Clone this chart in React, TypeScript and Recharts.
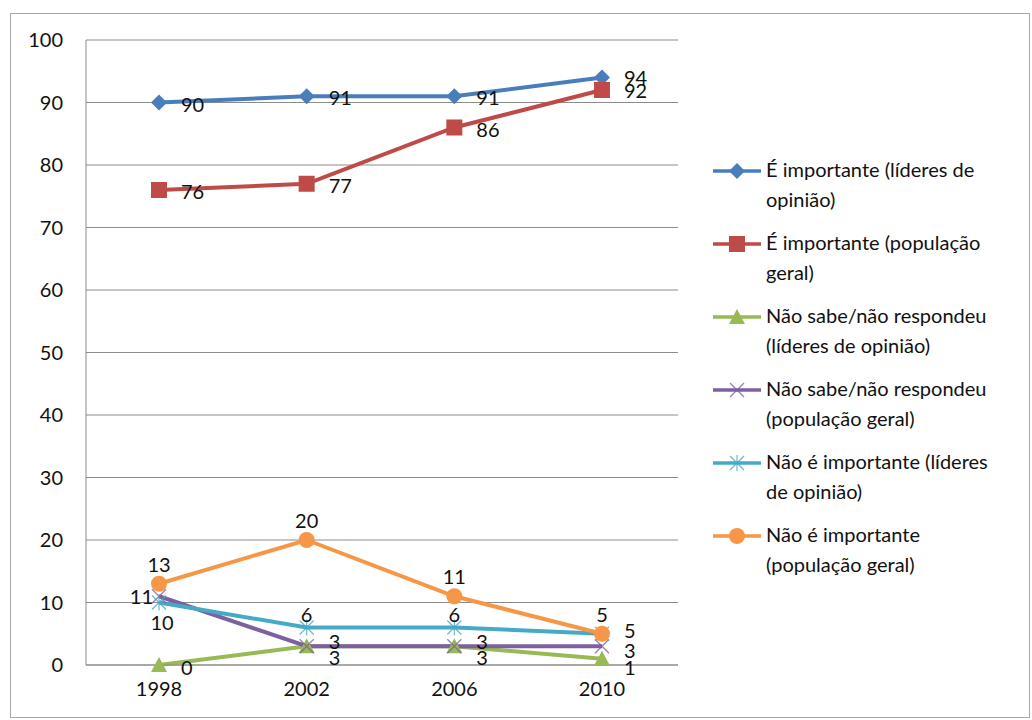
import React from "react";
import { LineChart, Line, XAxis, YAxis, CartesianGrid, LabelList } from "recharts";

const years = ["1998", "2002", "2006", "2010"];
const impLideres = [90, 91, 91, 94];
const impPopulacao = [76, 77, 86, 92];
const nsLideres = [0, 3, 3, 1];
const nsPopulacao = [11, 3, 3, 3];
const naoImpLideres = [10, 6, 6, 5];
const naoImpPopulacao = [13, 20, 11, 5];
const yTicks = [0, 10, 20, 30, 40, 50, 60, 70, 80, 90, 100];

const seriesNames = [
  ["É importante (líderes de", "opinião)"],
  ["É importante (população", "geral)"],
  ["Não sabe/não respondeu", "(líderes de opinião)"],
  ["Não sabe/não respondeu", "(população geral)"],
  ["Não é importante (líderes", "de opinião)"],
  ["Não é importante", "(população geral)"],
];

const data = years.map((y, i) => ({
  year: y,
  s0: impLideres[i],
  s1: impPopulacao[i],
  s2: nsLideres[i],
  s3: nsPopulacao[i],
  s4: naoImpLideres[i],
  s5: naoImpPopulacao[i],
}));

const FONT = "Lato, 'Noto Sans', sans-serif";
const FS = 20;
const COLORS = ["#4A7EBB", "#BE4B48", "#98B954", "#7D60A0", "#46AAC5", "#F79646"];
const SHAPES = ["diamond", "square", "triangle", "x", "star", "circle"];

// label placement per series, per point: r = right, l = left, a = above, b = below
const PLACE: { p: string; dy: number }[][] = [
  [{ p: "r", dy: 1 }, { p: "r", dy: 1 }, { p: "r", dy: 1 }, { p: "r", dy: -1 }],
  [{ p: "r", dy: 1 }, { p: "r", dy: 1 }, { p: "r", dy: 1 }, { p: "r", dy: 0 }],
  [{ p: "r", dy: 2 }, { p: "r", dy: 11 }, { p: "r", dy: 11 }, { p: "r", dy: 8 }],
  [{ p: "l", dy: 0 }, { p: "r", dy: -5 }, { p: "r", dy: -5 }, { p: "r", dy: 4 }],
  [{ p: "b", dy: 0 }, { p: "a", dy: 0 }, { p: "a", dy: 0 }, { p: "r", dy: -4 }],
  [{ p: "a", dy: 0 }, { p: "a", dy: 0 }, { p: "a", dy: 0 }, { p: "a", dy: 0 }],
];

function Marker({ cx, cy, shape, color }: { cx: number; cy: number; shape: string; color: string }) {
  if (shape === "diamond") {
    const s = 8;
    return <polygon points={`${cx},${cy - s} ${cx + s},${cy} ${cx},${cy + s} ${cx - s},${cy}`} fill={color} />;
  }
  if (shape === "square") {
    const s = 8;
    return <rect x={cx - s} y={cy - s} width={2 * s} height={2 * s} fill={color} />;
  }
  if (shape === "triangle") {
    const s = 8;
    return <polygon points={`${cx},${cy - s} ${cx + s},${cy + s - 1} ${cx - s},${cy + s - 1}`} fill={color} />;
  }
  if (shape === "x") {
    const s = 7;
    return (
      <g stroke={color} strokeWidth={1.2} opacity={0.8}>
        <line x1={cx - s} y1={cy - s} x2={cx + s} y2={cy + s} />
        <line x1={cx - s} y1={cy + s} x2={cx + s} y2={cy - s} />
      </g>
    );
  }
  if (shape === "star") {
    const s = 7;
    return (
      <g stroke={color} strokeWidth={1.2} opacity={0.8}>
        <line x1={cx - s} y1={cy - s} x2={cx + s} y2={cy + s} />
        <line x1={cx - s} y1={cy + s} x2={cx + s} y2={cy - s} />
        <line x1={cx} y1={cy - s - 1} x2={cx} y2={cy + s + 1} />
      </g>
    );
  }
  return <circle cx={cx} cy={cy} r={8} fill={color} />;
}

function makeDot(si: number) {
  return (props: any) => {
    const { cx, cy, index } = props;
    if (cx == null || cy == null) return <g key={`d${si}-${index}`} />;
    return (
      <g key={`d${si}-${index}`}>
        <Marker cx={cx} cy={cy} shape={SHAPES[si]} color={COLORS[si]} />
      </g>
    );
  };
}

function makeLabel(si: number) {
  return (props: any) => {
    const { x, y, value, index } = props;
    const pl = PLACE[si][index] || { p: "r", dy: 0 };
    let tx = x;
    let ty = y + pl.dy;
    let anchor: "start" | "middle" | "end" = "middle";
    if (pl.p === "r") {
      tx = x + 22;
      anchor = "start";
    } else if (pl.p === "l") {
      tx = x - 6;
      anchor = "end";
    } else if (pl.p === "a") {
      ty = y - (si === 4 ? 14 : 20);
    } else if (pl.p === "b") {
      tx = x + 3;
      ty = y + 19;
    }
    return (
      <text
        key={`l${si}-${index}`}
        x={tx}
        y={ty}
        textAnchor={anchor}
        dominantBaseline="central"
        fontFamily={FONT}
        fontSize={FS}
        fill="#111"
      >
        {value}
      </text>
    );
  };
}

function LegendMarker({ si }: { si: number }) {
  return (
    <svg width={48} height={20} style={{ display: "block" }}>
      <line x1={0} y1={10} x2={48} y2={10} stroke={COLORS[si]} strokeWidth={3.5} />
      <Marker cx={24} cy={10} shape={SHAPES[si]} color={COLORS[si]} />
    </svg>
  );
}

export default function App() {
  const keys = ["s0", "s1", "s2", "s3", "s4", "s5"];
  return (
    <div
      style={{
        position: "absolute",
        left: 10,
        top: 13,
        width: 1020,
        height: 705,
        boxSizing: "border-box",
        border: "1px solid #a6a6a6",
        background: "#fff",
      }}
    >
      <LineChart
        width={720}
        height={696}
        data={data}
        margin={{ top: 26, right: 53, bottom: 5, left: 0 }}
      >
        <CartesianGrid horizontal={true} vertical={false} stroke="#8c8c8c" strokeWidth={1} />
        <XAxis
          dataKey="year"
          padding={{ left: 73, right: 76 }}
          axisLine={{ stroke: "#8c8c8c" }}
          tickLine={false}
          tickSize={6}
          tickMargin={11}
          height={40}
          tick={{ fontFamily: FONT, fontSize: FS, fill: "#111" }}
        />
        <YAxis
          domain={[0, 100]}
          ticks={yTicks}
          interval={0}
          width={75}
          axisLine={{ stroke: "#8c8c8c" }}
          tickLine={false}
          tickSize={6}
          tickMargin={17}
          tick={{ fontFamily: FONT, fontSize: FS, fill: "#111" }}
        />
        {keys.map((k, si) => (
          <Line
            key={k}
            dataKey={k}
            type="linear"
            stroke={COLORS[si]}
            strokeWidth={4}
            dot={makeDot(si)}
            activeDot={false}
            isAnimationActive={false}
          >
            <LabelList dataKey={k} content={makeLabel(si)} />
          </Line>
        ))}
      </LineChart>
      <div
        style={{
          position: "absolute",
          left: 702,
          top: 140,
          width: 320,
          fontFamily: FONT,
          fontSize: FS,
          color: "#111",
        }}
      >
        {seriesNames.map((lines, si) => (
          <div key={si} style={{ display: "flex", alignItems: "flex-start", height: 73 }}>
            <div style={{ marginTop: 7, marginRight: 5 }}>
              <LegendMarker si={si} />
            </div>
            <div style={{ lineHeight: "30px" }}>
              <div>{lines[0]}</div>
              <div>{lines[1]}</div>
            </div>
          </div>
        ))}
      </div>
    </div>
  );
}
